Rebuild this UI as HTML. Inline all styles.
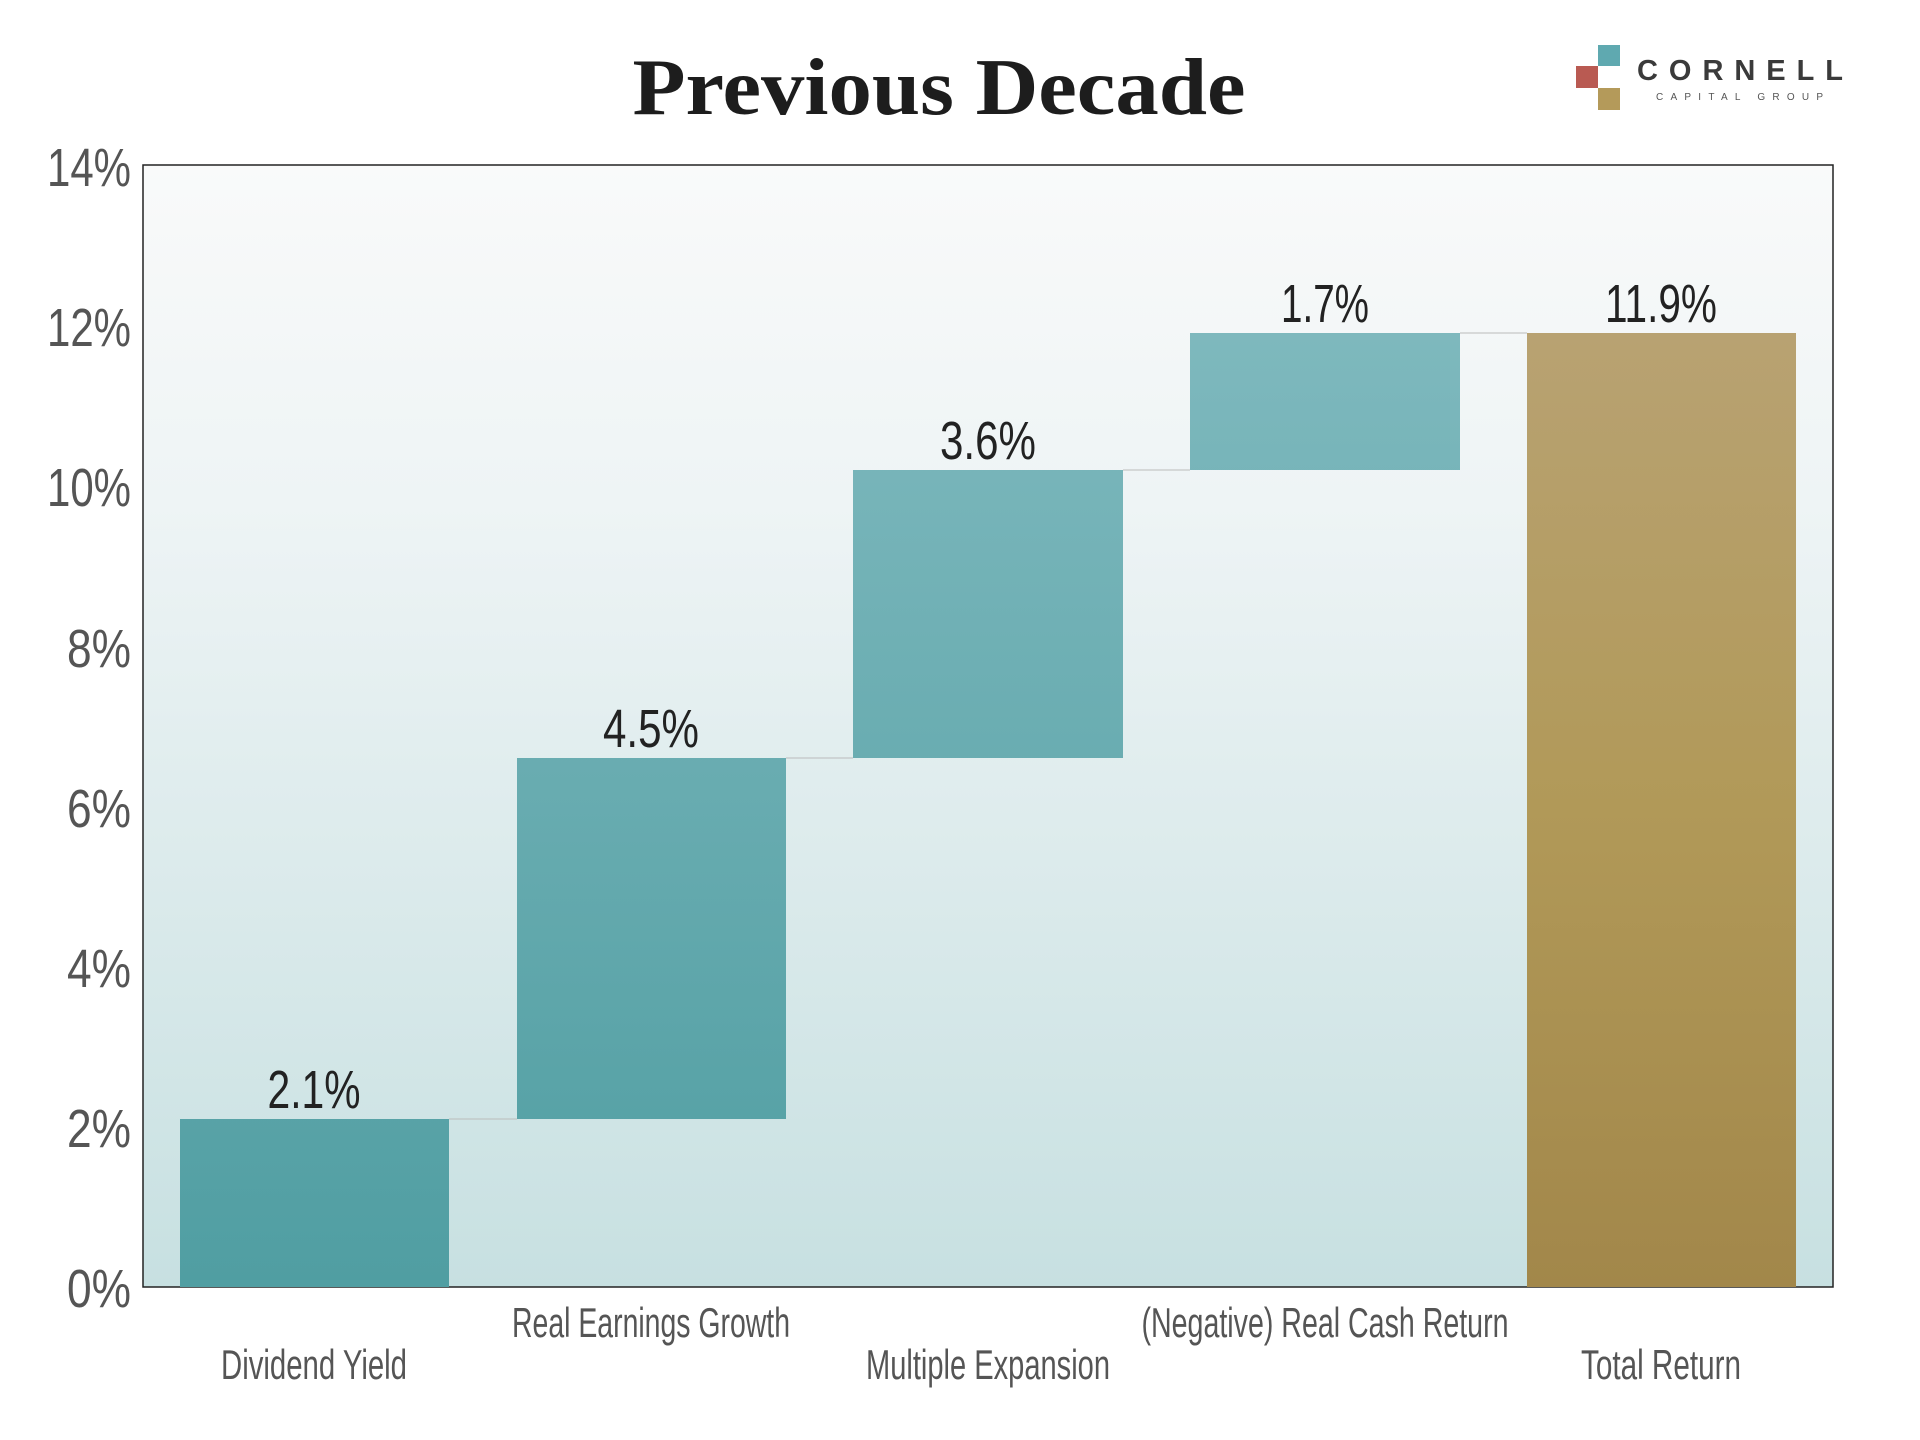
<!DOCTYPE html>
<html><head><style>html,body{margin:0;padding:0;background:#fff}svg{display:block}</style></head>
<body>
<svg width="1920" height="1440" viewBox="0 0 1920 1440" xmlns="http://www.w3.org/2000/svg">
<defs>
<linearGradient id="bg" x1="0" y1="0" x2="0" y2="1"><stop offset="0" stop-color="#f9fafa"/><stop offset="0.3" stop-color="#eef4f5"/><stop offset="1" stop-color="#c7e0e1"/></linearGradient>
<linearGradient id="teal" gradientUnits="userSpaceOnUse" x1="0" y1="165" x2="0" y2="1287"><stop offset="0" stop-color="#86bdc2"/><stop offset="1" stop-color="#509ea2"/></linearGradient>
<linearGradient id="gold" x1="0" y1="0" x2="0" y2="1"><stop offset="0" stop-color="#b8a272"/><stop offset="0.5" stop-color="#b19958"/><stop offset="1" stop-color="#a2874a"/></linearGradient>
</defs>
<text x="939" y="114" text-anchor="middle" font-family="Liberation Serif, serif" font-weight="bold" font-size="80" fill="#1d1d1d" textLength="613" lengthAdjust="spacingAndGlyphs">Previous Decade</text>
<rect x="1598" y="45" width="22" height="21" fill="#5fa9b0"/>
<rect x="1576" y="66" width="22" height="22" fill="#b95a52"/>
<rect x="1598" y="88" width="22" height="22" fill="#b49a5a"/>
<text x="1637" y="80" font-family="Liberation Sans, sans-serif" font-weight="bold" font-size="29" fill="#3a3a3a" textLength="206" lengthAdjust="spacing">CORNELL</text>
<text x="1656" y="100" font-family="Liberation Sans, sans-serif" font-size="10" fill="#555" textLength="167" lengthAdjust="spacing">CAPITAL GROUP</text>
<rect x="143" y="165" width="1690" height="1122" fill="url(#bg)" stroke="#222" stroke-width="1.5"/>
<g font-family="Liberation Sans, sans-serif" font-size="54" fill="#555" text-anchor="end">
<text x="131" y="186" textLength="84" lengthAdjust="spacingAndGlyphs">14%</text>
<text x="131" y="346" textLength="84" lengthAdjust="spacingAndGlyphs">12%</text>
<text x="131" y="506" textLength="84" lengthAdjust="spacingAndGlyphs">10%</text>
<text x="131" y="667" textLength="64" lengthAdjust="spacingAndGlyphs">8%</text>
<text x="131" y="827" textLength="64" lengthAdjust="spacingAndGlyphs">6%</text>
<text x="131" y="987" textLength="64" lengthAdjust="spacingAndGlyphs">4%</text>
<text x="131" y="1147" textLength="64" lengthAdjust="spacingAndGlyphs">2%</text>
<text x="131" y="1307" textLength="64" lengthAdjust="spacingAndGlyphs">0%</text>
</g>
<g stroke="#bbb" stroke-width="1">
<line x1="449" y1="1119" x2="517" y2="1119"/>
<line x1="786" y1="758" x2="853" y2="758"/>
<line x1="1123" y1="470" x2="1190" y2="470"/>
<line x1="1460" y1="333" x2="1527" y2="333"/>
</g>
<rect x="180" y="1119" width="269" height="168" fill="url(#teal)"/>
<rect x="517" y="758" width="269" height="361" fill="url(#teal)"/>
<rect x="853" y="470" width="270" height="288" fill="url(#teal)"/>
<rect x="1190" y="333" width="270" height="137" fill="url(#teal)"/>
<rect x="1527" y="333" width="269" height="954" fill="url(#gold)"/>
<g font-family="Liberation Sans, sans-serif" font-size="54" fill="#222" text-anchor="middle">
<text x="314" y="1108" textLength="93" lengthAdjust="spacingAndGlyphs">2.1%</text>
<text x="651" y="747" textLength="96" lengthAdjust="spacingAndGlyphs">4.5%</text>
<text x="988" y="459" textLength="96" lengthAdjust="spacingAndGlyphs">3.6%</text>
<text x="1325" y="322" textLength="88" lengthAdjust="spacingAndGlyphs">1.7%</text>
<text x="1661" y="322" textLength="112" lengthAdjust="spacingAndGlyphs">11.9%</text>
</g>
<g font-family="Liberation Sans, sans-serif" font-size="42" fill="#555" text-anchor="middle">
<text x="651" y="1337" textLength="278" lengthAdjust="spacingAndGlyphs">Real Earnings Growth</text>
<text x="1325" y="1337" textLength="367" lengthAdjust="spacingAndGlyphs">(Negative) Real Cash Return</text>
<text x="314" y="1379" textLength="186" lengthAdjust="spacingAndGlyphs">Dividend Yield</text>
<text x="988" y="1379" textLength="244" lengthAdjust="spacingAndGlyphs">Multiple Expansion</text>
<text x="1661" y="1379" textLength="160" lengthAdjust="spacingAndGlyphs">Total Return</text>
</g>
</svg>
</body></html>
